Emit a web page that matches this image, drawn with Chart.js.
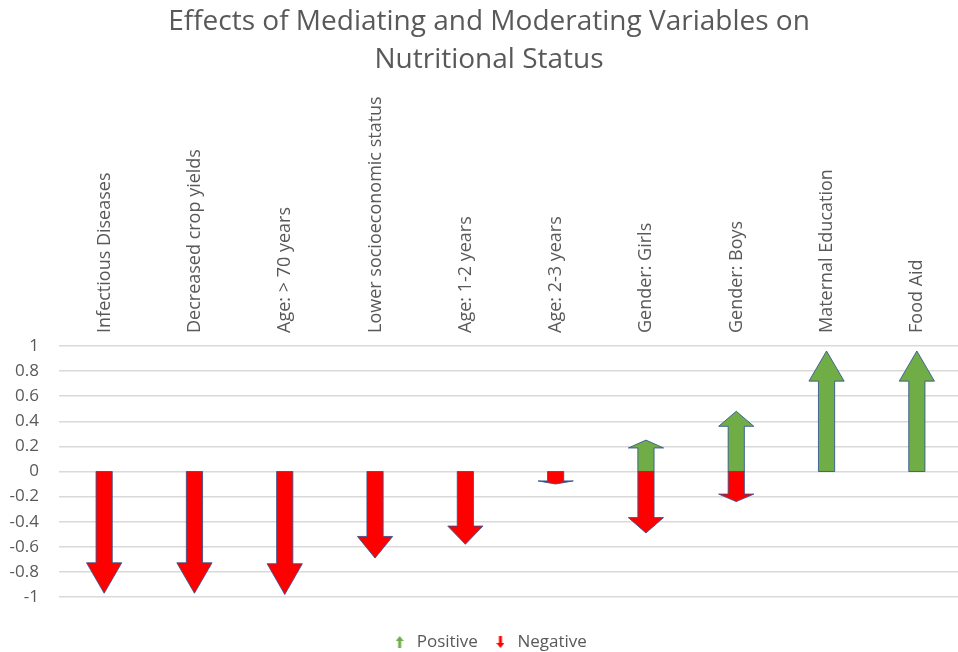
<!DOCTYPE html>
<html>
<head>
<meta charset="utf-8">
<script src="https://cdn.jsdelivr.net/npm/chart.js@4.4.1/dist/chart.umd.min.js"></script>
<style>
  html, body { margin: 0; padding: 0; background: #fff; overflow: hidden; }
  /* the original picture is cut off a little on the right */
  #wrap { width: 978px; height: 652px; position: relative; }
</style>
</head>
<body>
<div id="wrap"><canvas id="effects-chart"></canvas></div>
<script>
// Chart data
const categories = [
    'Infectious Diseases',
    'Decreased crop yields',
    'Age: > 70 years',
    'Lower socioeconomic status',
    'Age: 1-2 years',
    'Age: 2-3 years',
    'Gender: Girls',
    'Gender: Boys',
    'Maternal Education',
    'Food Aid'
];
const positiveValues = [null, null, null, null, null, null, 0.25, 0.48, 0.96, 0.96];
const negativeValues = [-0.97, -0.97, -0.98, -0.69, -0.58, -0.1, -0.49, -0.24, null, null];
const yTicks = [1, 0.8, 0.6, 0.4, 0.2, 0, -0.2, -0.4, -0.6, -0.8, -1];
const yTickLabels = ['1', '0.8', '0.6', '0.4', '0.2', '0', '-0.2', '-0.4', '-0.6', '-0.8', '-1'];

const GREEN = '#70AD47';
const RED = '#FF0000';
const OUTLINE = 'rgba(47, 82, 143, 0.85)';
const TEXT = '#595959';
const FONT = "'Open Sans', sans-serif";

// small arrow icons for the legend
function makeLegendArrow(color, up) {
    const c = document.createElement('canvas');
    c.width = 8;
    c.height = 12;
    const g = c.getContext('2d');
    g.fillStyle = color;
    g.beginPath();
    if (up) {
        g.moveTo(4, 0); g.lineTo(8, 5); g.lineTo(5.5, 5); g.lineTo(5.5, 12);
        g.lineTo(2.5, 12); g.lineTo(2.5, 5); g.lineTo(0, 5);
    } else {
        g.moveTo(2.5, 0); g.lineTo(5.5, 0); g.lineTo(5.5, 7); g.lineTo(8, 7);
        g.lineTo(4, 12); g.lineTo(0, 7); g.lineTo(2.5, 7);
    }
    g.closePath();
    g.fill();
    return c;
}

// draws each bar as an arrow from zero to its value
const arrowPlugin = {
    id: 'arrows',
    afterDatasetsDraw(chart) {
        const ctx = chart.ctx;
        ctx.save();
        chart.data.datasets.forEach((ds, i) => {
            const meta = chart.getDatasetMeta(i);
            meta.data.forEach((el, j) => {
                if (ds.data[j] === null) return;
                const x = el.x;
                const y0 = el.base;
                const y1 = el.y;
                const len = y1 - y0;
                const hw = el.width / 2;
                const sw = el.width * 0.23;
                const neck = y1 - len * 0.25;

                ctx.beginPath();
                ctx.moveTo(x - sw, y0);
                ctx.lineTo(x - sw, neck);
                ctx.lineTo(x - hw, neck);
                ctx.lineTo(x, y1);
                ctx.lineTo(x + hw, neck);
                ctx.lineTo(x + sw, neck);
                ctx.lineTo(x + sw, y0);
                ctx.closePath();
                ctx.fillStyle = ds.arrowColor;
                ctx.fill();
                ctx.lineWidth = 1;
                ctx.strokeStyle = OUTLINE;
                ctx.stroke();
            });
        });
        ctx.restore();
    }
};

const ctx = document.getElementById('effects-chart').getContext('2d');

new Chart(ctx, {
    type: 'bar',
    data: {
        labels: categories,
        datasets: [{
            label: 'Positive',
            data: positiveValues,
            arrowColor: GREEN,
            backgroundColor: 'rgba(0,0,0,0)',
            borderWidth: 0,
            pointStyle: makeLegendArrow(GREEN, true)
        }, {
            label: 'Negative',
            data: negativeValues,
            arrowColor: RED,
            backgroundColor: 'rgba(0,0,0,0)',
            borderWidth: 0,
            pointStyle: makeLegendArrow(RED, false)
        }]
    },
    options: {
        responsive: true,
        maintainAspectRatio: false,
        animation: false,
        grouped: false,
        barPercentage: 0.39,
        categoryPercentage: 1,
        layout: {
            padding: { top: 3, right: 0, bottom: -8.5, left: 0 }
        },
        plugins: {
            title: {
                display: true,
                text: ['Effects of Mediating and Moderating Variables on', 'Nutritional Status'],
                color: TEXT,
                font: { family: FONT, size: 28, weight: 'normal', lineHeight: 1.357 },
                padding: 0
            },
            legend: {
                position: 'bottom',
                labels: {
                    usePointStyle: true,
                    color: TEXT,
                    font: { family: FONT, size: 17 },
                    padding: 14
                }
            },
            tooltip: { enabled: false }
        },
        scales: {
            x: {
                position: 'top',
                grid: { display: false, drawTicks: false },
                border: { display: false },
                ticks: {
                    autoSkip: false,
                    maxRotation: 90,
                    minRotation: 90,
                    color: TEXT,
                    font: { family: FONT, size: 18 },
                    padding: 13,
                    labelOffset: 22
                },
                afterFit(scale) { scale.height = 267; }
            },
            // empty strips, they only keep space free around the plot
            x2: {
                type: 'category',
                position: 'bottom',
                grid: { display: false, drawTicks: false },
                border: { display: false },
                ticks: { display: false },
                afterFit(scale) { scale.height = 22.5; }
            },
            y2: {
                type: 'linear',
                position: 'right',
                grid: { display: false, drawTicks: false },
                border: { display: false },
                ticks: { display: false },
                afterFit(scale) { scale.width = 16; }
            },
            y: {
                min: -1,
                max: 1,
                afterBuildTicks(scale) {
                    scale.ticks = yTicks.map(v => ({ value: v }));
                },
                grid: { color: '#d9d9d9', lineWidth: 1.5, drawTicks: false },
                border: { display: false },
                ticks: {
                    color: TEXT,
                    font: { family: FONT, size: 17 },
                    padding: 20,
                    callback: (value, index) => yTickLabels[index]
                },
                afterFit(scale) { scale.width = 59; }
            }
        }
    },
    plugins: [arrowPlugin]
});
</script>
</body>
</html>
